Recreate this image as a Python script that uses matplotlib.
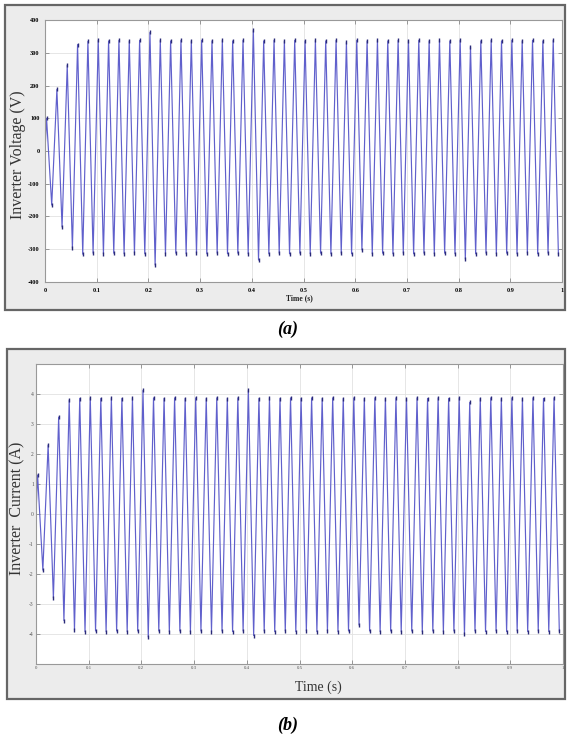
import numpy as np
import matplotlib
matplotlib.use("Agg")
import matplotlib.pyplot as plt
from matplotlib.patches import Rectangle

W, H = 568, 737

# peak values per 50 Hz cycle
volt_pos = [100, 188, 262, 325, 335, 338, 336, 338, 336, 338,
            362, 338, 336, 338, 336, 338, 336, 338, 336, 338,
            368, 336, 338, 336, 338, 336, 338, 336, 338, 332,
            338, 336, 338, 336, 338, 336, 338, 336, 338, 336,
            338, 318, 336, 338, 336, 338, 336, 338, 336, 338]
volt_neg = [-165, -232, -297, -315, -312, -314, -312, -314, -312, -314,
            -348, -314, -312, -314, -312, -314, -312, -314, -312, -314,
            -333, -314, -312, -314, -312, -314, -312, -314, -312, -314,
            -302, -314, -312, -314, -312, -314, -312, -314, -312, -314,
            -330, -314, -312, -314, -312, -314, -312, -314, -312, -314]
curr_pos = [1.3, 2.3, 3.23, 3.8, 3.85, 3.87, 3.85, 3.87, 3.85, 3.87,
            4.12, 3.87, 3.85, 3.87, 3.85, 3.87, 3.85, 3.87, 3.85, 3.87,
            4.12, 3.85, 3.87, 3.85, 3.87, 3.85, 3.87, 3.85, 3.87, 3.85,
            3.87, 3.85, 3.87, 3.85, 3.87, 3.85, 3.87, 3.85, 3.87, 3.85,
            3.87, 3.72, 3.85, 3.87, 3.85, 3.87, 3.85, 3.87, 3.85, 3.87]
curr_neg = [-1.87, -2.8, -3.55, -3.87, -3.92, -3.9, -3.92, -3.9, -3.92, -3.9,
            -4.1, -3.9, -3.92, -3.9, -3.92, -3.9, -3.92, -3.9, -3.92, -3.9,
            -4.05, -3.9, -3.92, -3.9, -3.92, -3.9, -3.92, -3.9, -3.92, -3.9,
            -3.7, -3.9, -3.92, -3.9, -3.92, -3.9, -3.92, -3.9, -3.92, -3.9,
            -4.0, -3.9, -3.92, -3.9, -3.92, -3.9, -3.92, -3.9, -3.92, -3.9]

t_pos = np.arange(50) * 0.02 + 0.003
t_neg = np.arange(50) * 0.02 + 0.013

volt_ticks = [-400, -300, -200, -100, 0, 100, 200, 300, 400]
curr_ticks = [-4, -3, -2, -1, 0, 1, 2, 3, 4]
time_ticks = [0, 0.1, 0.2, 0.3, 0.4, 0.5, 0.6, 0.7, 0.8, 0.9, 1]
time_labels = ["0", "0.1", "0.2", "0.3", "0.4", "0.5", "0.6", "0.7", "0.8", "0.9", "1"]


def wave(tp, tn, p, n):
    t = [0.0]
    y = [0.0]
    for a, b, c, d in zip(tp, tn, p, n):
        t += [a, b]
        y += [c, d]
    return t, y


def px(x, y):
    return x / W, 1 - y / H


def frame(fig, x0, y0, x1, y1):
    fig.patches.append(Rectangle(px(x0, y1), (x1 - x0) / W, (y1 - y0) / H,
                                 transform=fig.transFigure, facecolor="#ececec",
                                 edgecolor="#666666", linewidth=1.6, zorder=-5))


def axes_at(fig, x0, y0, x1, y1):
    return fig.add_axes([x0 / W, 1 - y1 / H, (x1 - x0) / W, (y1 - y0) / H])


def draw_wave(ax, p, n):
    t, y = wave(t_pos, t_neg, p, n)
    ax.plot(t, y, color=line_color, linewidth=0.85)
    # dark tips at the peaks
    ax.plot(t[1:], y[1:], linestyle="none", marker="|", markersize=2.2,
            markeredgewidth=1.0, color=tip_color)


plt.rcParams["font.family"] = ["Liberation Serif", "DejaVu Serif"]

fig = plt.figure(figsize=(W / 100, H / 100), dpi=100)
fig.patch.set_facecolor("white")

frame(fig, 5, 5, 565, 310)
frame(fig, 7, 349, 565, 699)

line_color = "#6060cc"
tip_color = "#2a2a78"

# (a) voltage
ax1 = axes_at(fig, 45, 20, 562, 282)
draw_wave(ax1, volt_pos, volt_neg)
ax1.set_xlim(0, 1)
ax1.set_ylim(-400, 400)
ax1.set_yticks(volt_ticks)
ax1.set_yticklabels([str(v) for v in volt_ticks], fontsize=4.5, fontweight="bold")
ax1.set_xticks(time_ticks)
ax1.set_xticklabels(time_labels, fontsize=4.5, fontweight="bold")
ax1.tick_params(direction="in", top=True, right=True, length=3, width=0.5,
                color="#777777", pad=4)
ax1.grid(True, color="#e2e2e2", linewidth=0.6)
for s in ax1.spines.values():
    s.set_color("#999999")
    s.set_linewidth(0.8)
fig.text(*px(18, 155), "Inverter Voltage (V)", rotation=90, ha="center", va="center",
         fontsize=11.5, color="#333333")
fig.text(*px(299, 298), "Time (s)", ha="center", va="center", fontsize=5.5,
         fontweight="bold", color="#222222")
fig.text(*px(288, 329), "(a)", ha="center", va="center", fontsize=13,
         fontweight="bold", fontstyle="italic")

# (b) current
ax2 = axes_at(fig, 36, 364, 563, 664)
draw_wave(ax2, curr_pos, curr_neg)
ax2.set_xlim(0, 1)
ax2.set_ylim(-5, 5)
ax2.set_yticks(curr_ticks)
ax2.set_yticklabels([str(v) for v in curr_ticks], fontsize=4, color="#555555")
ax2.set_xticks(time_ticks)
ax2.set_xticklabels(time_labels, fontsize=3.5, color="#555555")
ax2.tick_params(direction="in", top=True, right=True, length=3, width=0.5,
                color="#777777", pad=1.5)
ax2.grid(True, color="#e2e2e2", linewidth=0.6)
for s in ax2.spines.values():
    s.set_color("#999999")
    s.set_linewidth(0.8)
fig.text(*px(17, 508), "Inverter  Current (A)", rotation=90, ha="center", va="center",
         fontsize=11.5, color="#333333")
fig.text(*px(318, 687), "Time (s)", ha="center", va="center", fontsize=10,
         color="#333333")
fig.text(*px(288, 725), "(b)", ha="center", va="center", fontsize=13,
         fontweight="bold", fontstyle="italic")

fig.savefig("out.png", dpi=100)
